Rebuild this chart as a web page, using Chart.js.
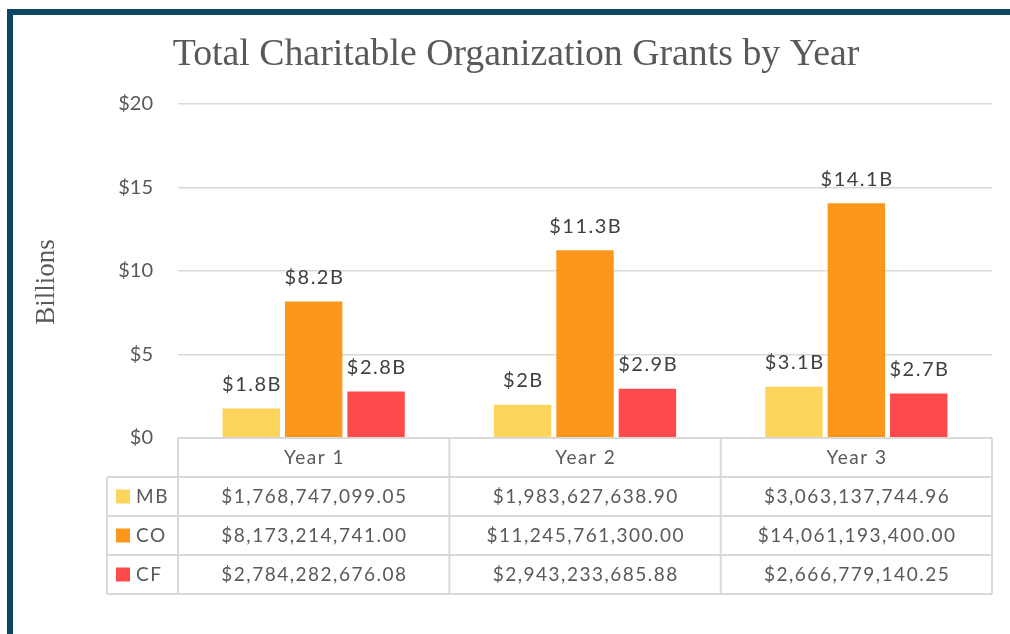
<!DOCTYPE html>
<html>
<head>
<meta charset="utf-8">
<script src="https://cdn.jsdelivr.net/npm/chart.js@4.4.1/dist/chart.umd.min.js"></script>
<style>
  html, body { margin: 0; padding: 0; background: #ffffff; }
  #wrap { width: 1010px; height: 634px; position: relative; }
</style>
</head>
<body>
<div id="wrap"><canvas id="c" width="1010" height="634"></canvas></div>
<script>
// ---- Data ----
const categories = ['Year 1', 'Year 2', 'Year 3'];
const seriesNames = ['MB', 'CO', 'CF'];
const mbValues = [1768747099.05, 1983627638.90, 3063137744.96];
const coValues = [8173214741.00, 11245761300.00, 14061193400.00];
const cfValues = [2784282676.08, 2943233685.88, 2666779140.25];
const mbLabels = ['$1.8B', '$2B', '$3.1B'];
const coLabels = ['$8.2B', '$11.3B', '$14.1B'];
const cfLabels = ['$2.8B', '$2.9B', '$2.7B'];
const yTickMin = 0;
const yTickMax = 20;
const yTickStep = 5;
const chartTitle = 'Total Charitable Organization Grants by Year';
const yAxisTitle = 'Billions';

const seriesColors = ['#FDD55C', '#FB971A', '#FE4A4A'];
const seriesValues = [mbValues, coValues, cfValues];
const seriesLabels = [mbLabels, coLabels, cfLabels];

const toBillions = arr => arr.map(v => v / 1e9);
const currencyFmt = new Intl.NumberFormat('en-US', { style: 'currency', currency: 'USD', minimumFractionDigits: 2, maximumFractionDigits: 2 });

const TEXT_GRAY = '#595959';
const LABEL_GRAY = '#404040';
const LINE_GRAY = '#d9d9d9';
const ROW_H = 39;
const LEGEND_LEFT = 107;

const framePlugin = {
  id: 'frame',
  beforeDraw(chart) {
    const ctx = chart.ctx;
    ctx.save();
    ctx.fillStyle = '#ffffff';
    ctx.fillRect(0, 0, chart.width, chart.height);
    ctx.fillStyle = '#0E4562';
    ctx.fillRect(7, 9, chart.width - 7, 6);
    ctx.fillRect(7, 9, 6, chart.height - 9);
    ctx.restore();
  }
};

const extrasPlugin = {
  id: 'extras',
  afterDatasetsDraw(chart) {
    const ctx = chart.ctx;
    ctx.save();
    ctx.font = '20px Lato';
    ctx.letterSpacing = '1.5px';
    ctx.fillStyle = LABEL_GRAY;
    ctx.textAlign = 'center';
    ctx.textBaseline = 'middle';
    chart.data.datasets.forEach((ds, di) => {
      const meta = chart.getDatasetMeta(di);
      meta.data.forEach((bar, i) => {
        ctx.fillText(seriesLabels[di][i], bar.x + 0.75, bar.y - 24);
      });
    });
    ctx.restore();
  },
  afterDraw(chart) {
    const ctx = chart.ctx;
    const ca = chart.chartArea;
    const colW = (ca.right - ca.left) / categories.length;
    const top = ca.bottom;
    const nRows = seriesNames.length + 1;
    ctx.save();
    // Y-axis title
    ctx.save();
    ctx.translate(47, 282);
    ctx.rotate(-Math.PI / 2);
    ctx.font = '27px "Liberation Serif"';
    ctx.fillStyle = TEXT_GRAY;
    ctx.textAlign = 'center';
    ctx.textBaseline = 'middle';
    ctx.fillText(yAxisTitle, 0, 0);
    ctx.restore();

    // Table grid
    ctx.strokeStyle = LINE_GRAY;
    ctx.lineWidth = 2;
    const line = (x1, y1, x2, y2) => { ctx.beginPath(); ctx.moveTo(x1, y1); ctx.lineTo(x2, y2); ctx.stroke(); };
    line(ca.left, top, ca.right, top);
    for (let k = 1; k <= nRows; k++) line(LEGEND_LEFT, top + k * ROW_H, ca.right, top + k * ROW_H);
    line(LEGEND_LEFT, top + ROW_H, LEGEND_LEFT, top + nRows * ROW_H);
    for (let i = 0; i <= categories.length; i++) line(ca.left + i * colW, top, ca.left + i * colW, top + nRows * ROW_H);

    // Header text
    ctx.font = '19px Lato';
    ctx.letterSpacing = '1.5px';
    ctx.fillStyle = TEXT_GRAY;
    ctx.textAlign = 'center';
    ctx.textBaseline = 'middle';
    const xs = chart.scales.x;
    categories.forEach((c, i) => {
      ctx.fillText(c, xs.getPixelForValue(i) + 0.75, top + ROW_H / 2);
    });
    // Rows
    seriesNames.forEach((name, r) => {
      const cy = top + (r + 1) * ROW_H + ROW_H / 2;
      ctx.fillStyle = seriesColors[r];
      ctx.fillRect(116, cy - 7, 14, 14);
      ctx.fillStyle = TEXT_GRAY;
      ctx.textAlign = 'left';
      ctx.fillText(name, 136, cy);
      ctx.textAlign = 'center';
      seriesValues[r].forEach((v, i) => {
        ctx.fillText(currencyFmt.format(v), xs.getPixelForValue(i) + 0.75, cy);
      });
    });
    ctx.restore();
  }
};

new Chart(document.getElementById('c'), {
  type: 'bar',
  data: {
    labels: categories,
    datasets: seriesNames.map((name, i) => ({
      label: name,
      data: toBillions(seriesValues[i]),
      backgroundColor: seriesColors[i],
      borderWidth: 0,
      categoryPercentage: 0.69,
      barPercentage: 0.92
    }))
  },
  options: {
    responsive: false,
    animation: false,
    layout: { padding: { top: 17, left: 40, right: 18, bottom: 196 } },
    plugins: {
      legend: { display: false },
      tooltip: { enabled: false },
      title: {
        display: true,
        text: chartTitle,
        color: TEXT_GRAY,
        font: { family: '"Liberation Serif"', size: 37.8, weight: 'normal', lineHeight: 1.2 },
        padding: { top: 15.6, bottom: 26 }
      }
    },
    scales: {
      x: { display: false },
      y: {
        min: yTickMin,
        max: yTickMax,
        ticks: {
          stepSize: yTickStep,
          callback: v => '$' + v,
          color: TEXT_GRAY,
          font: { family: 'Lato', size: 20 },
          padding: 25
        },
        grid: { color: LINE_GRAY, lineWidth: 1.5, drawTicks: false },
        border: { display: false },
        afterFit(scale) { scale.width = 138; }
      }
    }
  },
  plugins: [framePlugin, extrasPlugin]
});
</script>
</body>
</html>
